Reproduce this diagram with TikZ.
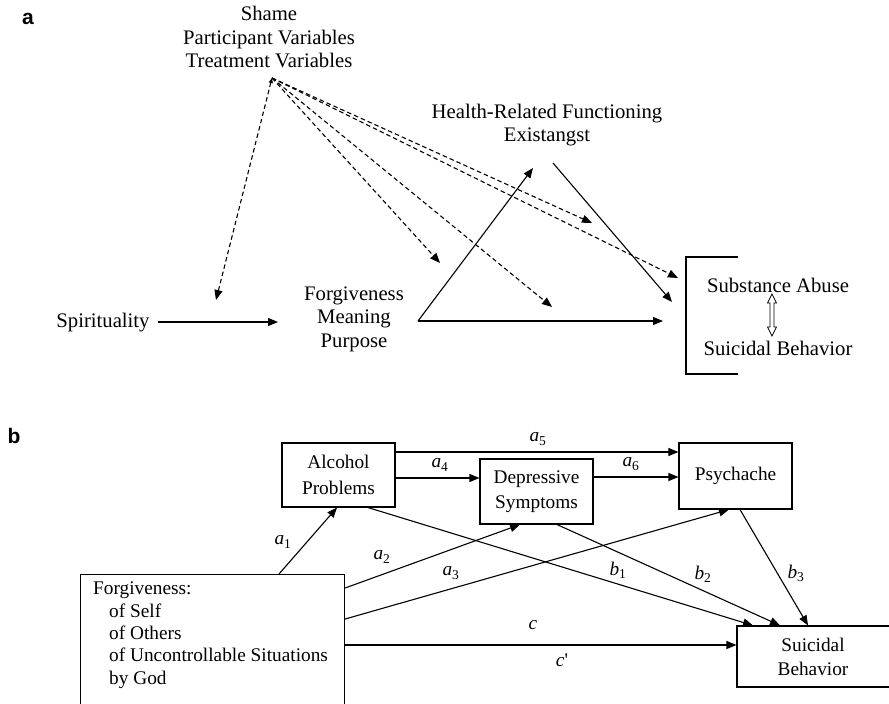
\documentclass[tikz,border=0pt]{standalone}
\usepackage{fontspec}
\setmainfont{Liberation Serif}
\newfontfamily\panelfont{Liberation Sans}
\usetikzlibrary{arrows.meta}
\tikzset{
  arr/.style={-{Triangle[length=10pt,width=8pt]}, line width=1.1pt},
  dasharr/.style={arr, dash pattern=on 4.5pt off 3pt},
  txta/.style={font=\fontsize{20.7}{23.5}\selectfont, align=center, inner sep=0pt},
  box/.style={draw, line width=1.1pt, font=\fontsize{19.3}{25.5}\selectfont, align=center, inner sep=0pt},
  lab/.style={font=\fontsize{19.3}{20}\selectfont, inner sep=0pt},
  panel/.style={font=\panelfont\bfseries\fontsize{21}{21}\selectfont, inner sep=0pt}
}
\newcommand{\lbl}[2]{\textit{#1}\textsubscript{#2}}
\begin{document}
\begin{tikzpicture}[x=1pt,y=-1pt]
\useasboundingbox (0,0) rectangle (889,704);
\clip (0,0) rectangle (889,704);

% ---------- panel a ----------
\node[panel] (pa) at (28,19) {a};
\node[txta] (shame) at (269,37) {Shame\\Participant Variables\\Treatment Variables};
\node[txta] (health) at (547,125) {Health-Related Functioning\\Existangst};
\node[txta] (spir) at (103,323) {Spirituality};
\node[txta] (forg) at (354,319) {Forgiveness\\Meaning\\Purpose};
\node[txta] (subst) at (778,285) {Substance Abuse};
\node[txta] (suic) at (778,348) {Suicidal Behavior};

\coordinate (src) at (272,78);
\coordinate (d1) at (216,300);
\coordinate (d2) at (440,263);
\coordinate (d3) at (552,307);
\coordinate (d4) at (592,223);
\coordinate (d5) at (678,278);
\draw[dasharr, {Triangle[length=5pt,width=4pt]}-{Triangle[length=10pt,width=8pt]}] (src) -- (d1);
\foreach \t in {d2,d3,d4,d5}
  \draw[dasharr] (src) -- (\t);

\coordinate (fo) at (418,321);
\coordinate (hin) at (533,168);
\coordinate (hout) at (553,163);
\coordinate (sin1) at (663,321);
\coordinate (sin2) at (672,302);
\coordinate (sp) at (158,322);
\coordinate (spe) at (278,322);
\draw[arr] (sp) -- (spe);
\draw[arr] (fo) -- (hin);
\draw[arr] (fo) -- (sin1);
\draw[arr] (hout) -- (sin2);

\draw[line width=2pt] (738,257) -- (686,257) -- (686,374) -- (738,374);
% hollow double arrow
\draw[line width=0.8pt, fill=white]
  (772,294) -- (776.5,303) -- (774,303) -- (774,327) -- (776.5,327) -- (772,336)
  -- (767.5,327) -- (770,327) -- (770,303) -- (767.5,303) -- cycle;

% ---------- panel b ----------
\node[panel] (pb) at (14,436) {b};
\node[box, minimum width=113pt, minimum height=64pt] (alc) at (338.5,475) {Alcohol\\Problems};
\node[box, minimum width=113pt, minimum height=65pt] (dep) at (536.5,491.5) {Depressive\\Symptoms};
\node[box, minimum width=113pt, minimum height=66pt] (psy) at (735.5,476) {Psychache};
\node[box, minimum width=170pt, minimum height=61pt] (sb) at (822,656.5) {};
\node[lab, font=\fontsize{19.3}{24}\selectfont, align=center] (sbt) at (813,657) {Suicidal\\Behavior};
\node[box, minimum width=264pt, minimum height=150pt, anchor=north west] (fb) at (80,574) {};
\node[lab, font=\fontsize{19.3}{22.3}\selectfont, align=left, anchor=north west] (fbt) at (93,582)
  {Forgiveness:\\\hspace*{16pt}of Self\\\hspace*{16pt}of Others\\\hspace*{16pt}of Uncontrollable Situations\\\hspace*{16pt}by God};

% a1
\draw[arr] (279,0 |- fb.north) -- (337,0 |- alc.south);
% a2, a3, c
\draw[arr] (fb.east |- 0,588) -- (520,0 |- dep.south);
\draw[arr] (fb.east |- 0,619) -- (729,0 |- psy.south);
\draw[arr] (fb.east |- 0,645) -- (sb.west |- 0,645);
% a4, a5, a6
\draw[arr] (alc.east |- 0,478) -- (dep.west |- 0,478);
\draw[arr] (alc.east |- 0,452) -- (psy.west |- 0,452);
\draw[arr] (dep.east |- 0,477) -- (psy.west |- 0,477);
% b1, b2, b3
\draw[arr] (368,0 |- alc.south) -- (753,0 |- sb.north);
\draw[arr] (557,0 |- dep.south) -- (780,0 |- sb.north);
\draw[arr] (740,0 |- psy.south) -- (808,0 |- sb.north);

% labels
\node[lab] (la1) at (283,542) {\lbl{a}{1}};
\node[lab] (la2) at (382,557) {\lbl{a}{2}};
\node[lab] (la3) at (451,573) {\lbl{a}{3}};
\node[lab] (la4) at (440,465) {\lbl{a}{4}};
\node[lab] (la5) at (538,439) {\lbl{a}{5}};
\node[lab] (la6) at (631,464) {\lbl{a}{6}};
\node[lab] (lb1) at (618,570) {\lbl{b}{1}};
\node[lab] (lb2) at (703,574) {\lbl{b}{2}};
\node[lab] (lb3) at (796,573) {\lbl{b}{3}};
\node[lab] (lc) at (533,625) {\textit{c}};
\node[lab] (lcp) at (562,660) {\textit{c}\textquotesingle};
\end{tikzpicture}
\end{document}
